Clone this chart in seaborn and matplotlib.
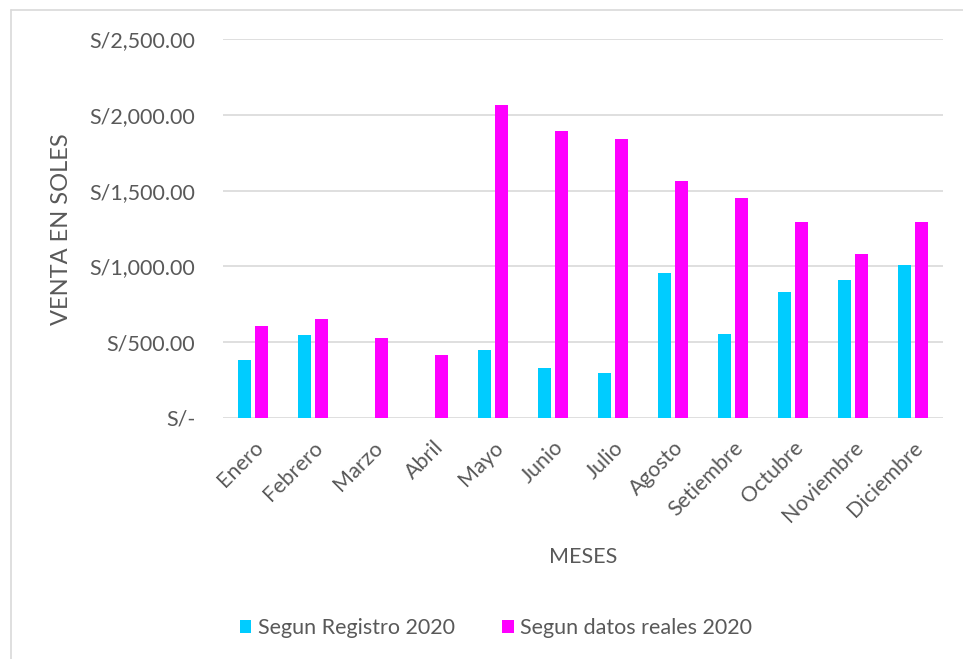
import numpy as np
import pandas as pd
import matplotlib
matplotlib.use('Agg')
import matplotlib.pyplot as plt
import seaborn as sns
from matplotlib.ticker import FuncFormatter
from matplotlib.lines import Line2D

# Data
meses = ['Enero', 'Febrero', 'Marzo', 'Abril', 'Mayo', 'Junio', 'Julio',
         'Agosto', 'Setiembre', 'Octubre', 'Noviembre', 'Diciembre']
registro_2020 = [385, 546, 0, 0, 446, 333, 295, 954, 552, 830, 907, 1008]
reales_2020 = [610, 651, 531, 416, 2064, 1892, 1841, 1564, 1452, 1290, 1085, 1292]
series = ['Segun Registro 2020', 'Segun datos reales 2020']
colors = ['#00CCFF', '#FF00FF']
yticks = [0, 500, 1000, 1500, 2000, 2500]

df = pd.DataFrame({
    'mes': meses * 2,
    'venta': registro_2020 + reales_2020,
    'serie': [series[0]] * len(meses) + [series[1]] * len(meses),
})

sns.set_style('white')
plt.rcParams['font.family'] = ['Lato', 'DejaVu Sans']
text_color = '#595959'
grid_color = '#D9D9D9'
fs = 15.5

fig = plt.figure(figsize=(9.63, 6.59), dpi=100)
ax = fig.add_axes([223 / 963, 1 - 418 / 659, 720 / 963, 379 / 659])

sns.barplot(data=df, x='mes', y='venta', hue='serie', palette=colors,
            saturation=1, width=0.57, gap=0.23, linewidth=0, ax=ax, legend=True)

ax.set_ylim(0, 2500)
ax.set_yticks(yticks)


def soles(v, pos):
    if v == 0:
        return 'S/-'
    return f'S/{v:,.2f}'


ax.yaxis.set_major_formatter(FuncFormatter(soles))
ax.yaxis.grid(True, color=grid_color, linewidth=1.2)
ax.set_axisbelow(True)
sns.despine(ax=ax, left=True, bottom=True)
ax.tick_params(axis='y', length=0, pad=20, labelsize=fs, labelcolor=text_color)
ax.tick_params(axis='x', length=0, pad=14, labelsize=fs, labelcolor=text_color)
for lbl in ax.get_xticklabels():
    lbl.set_rotation(45)
    lbl.set_ha('right')
    lbl.set_rotation_mode('anchor')

# axis titles placed in figure coordinates
ax.set_xlabel('')
ax.set_ylabel('')
fig.text(583 / 963, 1 - 557 / 659, 'MESES', fontsize=fs, color=text_color,
         ha='center', va='center')
fig.text(62 / 963, 1 - 229 / 659, 'VENTA EN SOLES', fontsize=17, color=text_color,
         ha='center', va='center', rotation=90)

handles, labels = ax.get_legend_handles_labels()
ax.get_legend().remove()
fig.legend(handles, labels, loc='center', bbox_to_anchor=(496 / 963, 1 - 628 / 659),
           ncol=2, frameon=False, fontsize=fs, labelcolor=text_color,
           handlelength=0.55, handleheight=0.55, handletextpad=0.3,
           columnspacing=2.2)

# chart border (left and top edges visible)
fig.add_artist(Line2D([11 / 963, 11 / 963], [0, 1 - 10 / 659],
                      transform=fig.transFigure, color=grid_color, linewidth=1.2))
fig.add_artist(Line2D([11 / 963, 1], [1 - 10 / 659, 1 - 10 / 659],
                      transform=fig.transFigure, color=grid_color, linewidth=1.2))

fig.savefig('out.png', dpi=100)
